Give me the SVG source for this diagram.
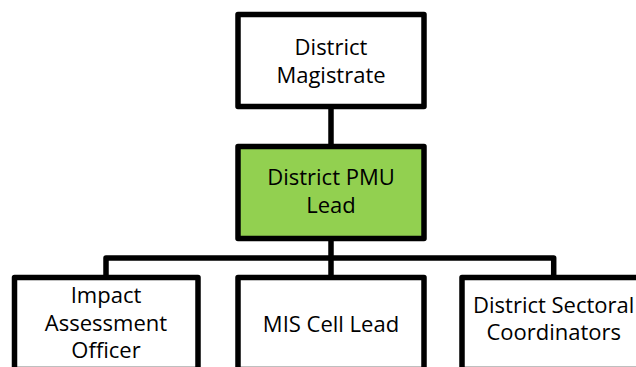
<svg xmlns="http://www.w3.org/2000/svg" width="636" height="367" viewBox="0 0 636 367">
<style>
.box{fill:#ffffff;stroke:#000000;stroke-width:5.5;stroke-linejoin:round}
.green{fill:#92D050}
.conn{fill:none;stroke:#000000;stroke-width:5.5;stroke-linejoin:round;stroke-linecap:butt}
text{font-family:"Open Sans","Liberation Sans",sans-serif;font-size:22px;fill:#000000;text-anchor:middle}
</style>
<rect width="636" height="367" fill="#ffffff"/>
<g id="connectors">
<path class="conn" d="M331,106.5 V146.5"/>
<path class="conn" d="M331,238.5 V277.5"/>
<path class="conn" d="M106,277.5 V258 H553.7 V277.5"/>
</g>
<g id="district-magistrate">
<rect class="box" x="238" y="14.5" width="186" height="92"/>
<text x="331" y="54.5">District</text>
<text x="331" y="82.5">Magistrate</text>
</g>
<g id="district-pmu-lead">
<rect class="box green" x="238" y="146.5" width="186" height="92"/>
<text x="331" y="185">District PMU</text>
<text x="331" y="213">Lead</text>
</g>
<g id="impact-assessment-officer">
<rect class="box" x="14.5" y="277.5" width="183.5" height="92"/>
<text x="106" y="302.5">Impact</text>
<text x="106" y="330.5">Assessment</text>
<text x="106" y="358">Officer</text>
</g>
<g id="mis-cell-lead">
<rect class="box" x="238" y="277.5" width="186" height="92"/>
<text x="331" y="331.5">MIS Cell Lead</text>
</g>
<g id="district-sectoral-coordinators">
<rect class="box" x="462" y="277.5" width="183.5" height="92"/>
<text x="553.7" y="312.5">District Sectoral</text>
<text x="553.7" y="340">Coordinators</text>
</g>
</svg>
